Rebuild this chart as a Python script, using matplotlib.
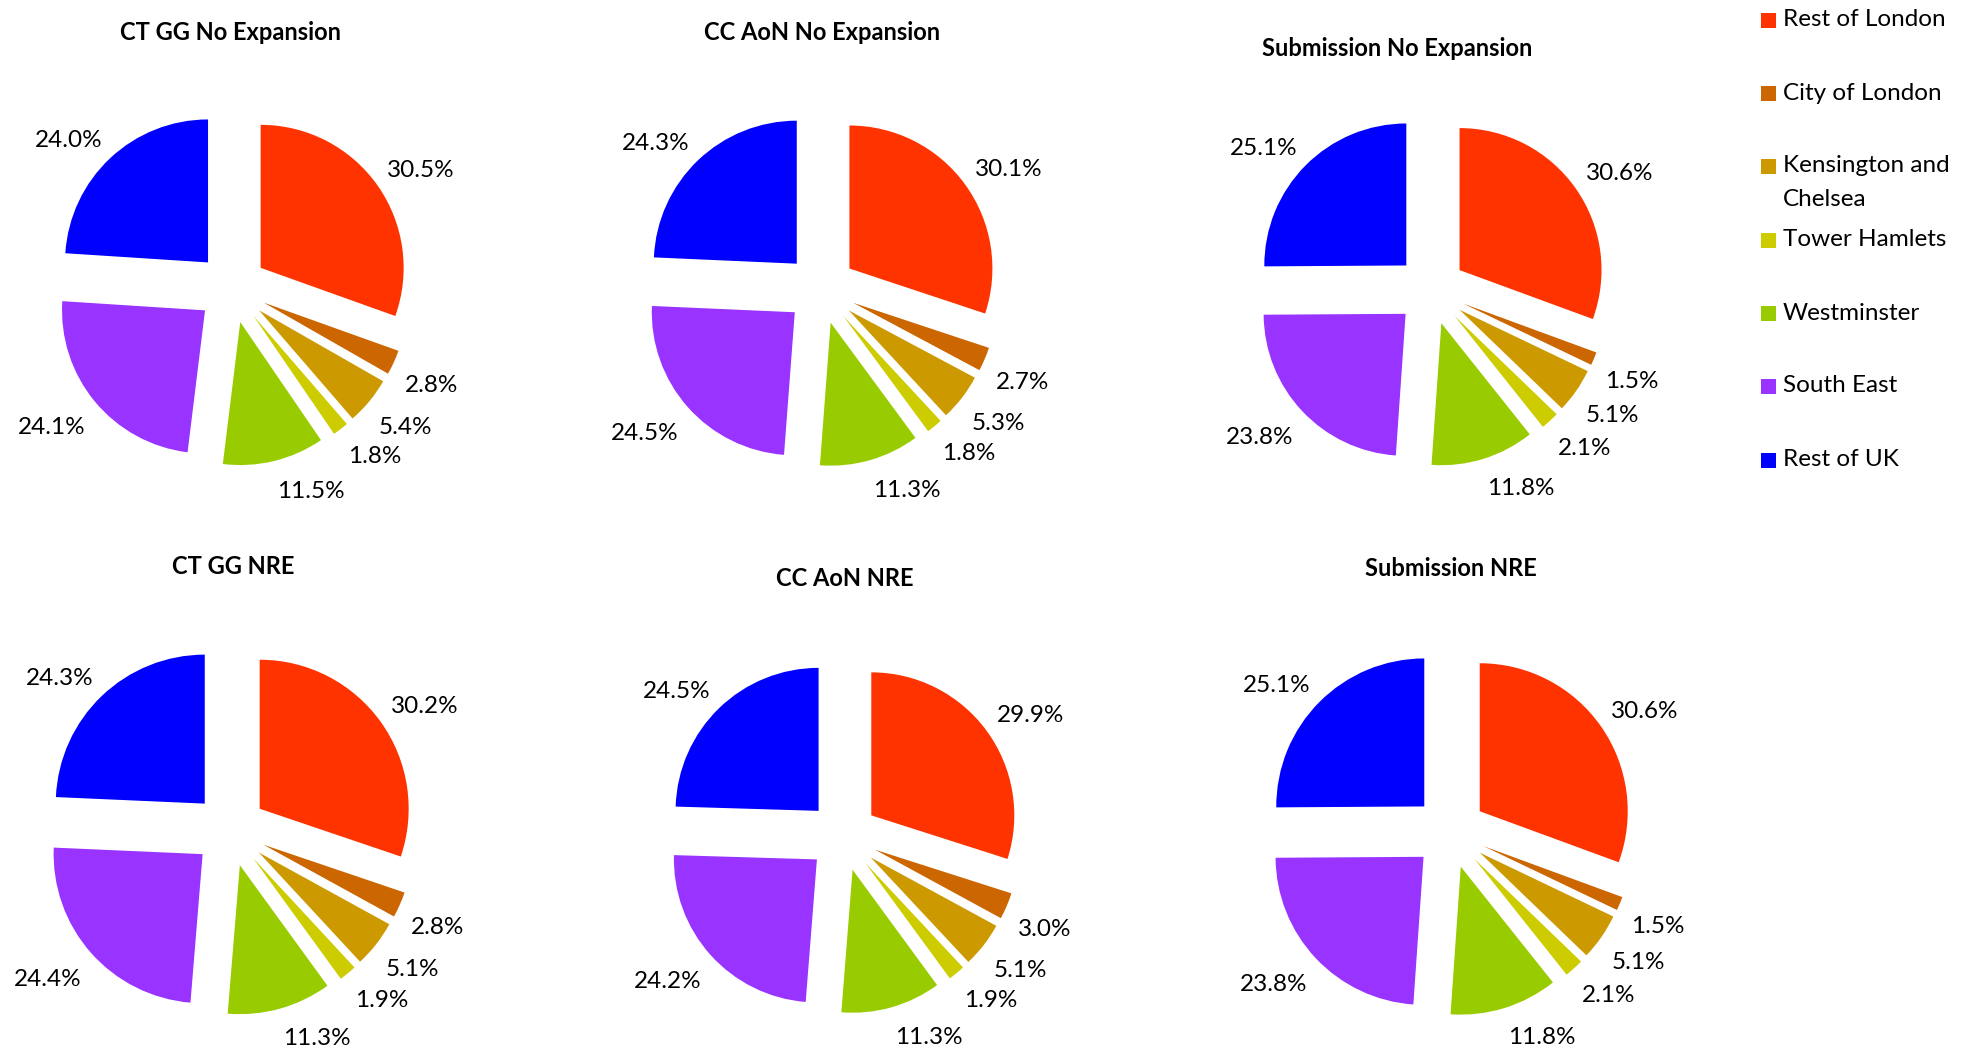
import numpy as np
import matplotlib
matplotlib.use("Agg")
import matplotlib.pyplot as plt
from matplotlib.patches import Rectangle

plt.rcParams["font.family"] = ["Lato", "DejaVu Sans"]

categories = ["Rest of London", "City of London", "Kensington and Chelsea",
              "Tower Hamlets", "Westminster", "South East", "Rest of UK"]
legend_labels = ["Rest of London", "City of London", "Kensington and\nChelsea",
                 "Tower Hamlets", "Westminster", "South East", "Rest of UK"]
colors = ["#FF3300", "#CC6600", "#CC9900", "#CCCC00", "#99CC00", "#9933FF", "#0000FF"]

titles = ["CT GG No Expansion", "CC AoN No Expansion", "Submission No Expansion",
          "CT GG NRE", "CC AoN NRE", "Submission NRE"]
ct_gg_noexp = [30.5, 2.8, 5.4, 1.8, 11.5, 24.1, 24.0]
cc_aon_noexp = [30.1, 2.7, 5.3, 1.8, 11.3, 24.5, 24.3]
submission_noexp = [30.6, 1.5, 5.1, 2.1, 11.8, 23.8, 25.1]
ct_gg_nre = [30.2, 2.8, 5.1, 1.9, 11.3, 24.4, 24.3]
cc_aon_nre = [29.9, 3.0, 5.1, 1.9, 11.3, 24.2, 24.5]
submission_nre = [30.6, 1.5, 5.1, 2.1, 11.8, 23.8, 25.1]
series = [ct_gg_noexp, cc_aon_noexp, submission_noexp,
          ct_gg_nre, cc_aon_nre, submission_nre]

W, H = 1972, 1056
fig = plt.figure(figsize=(W / 100, H / 100), dpi=100)

# layout in pixels (from top-left): pie centre, radius, title position
pie_pos = [(232, 288, 143), (821, 289, 143), (1431, 290, 142),
           (230, 830, 149), (843, 836, 143), (1450, 832, 148)]
title_pos = [(230, 33), (822, 33), (1397, 48),
             (233, 566), (845, 579), (1451, 568)]

S = 560  # axes box size in px
PAD = 12  # gap between arc and nearest label corner, px
pies = []
for vals, title, (cx, cy, r), (tx, ty) in zip(series, titles, pie_pos, title_pos):
    ax = fig.add_axes([(cx - S / 2) / W, 1 - (cy + S / 2) / H, S / W, S / H])
    labels = [f"{v:.1f}%" for v in vals]
    wedges, texts = ax.pie(vals, labels=labels, colors=colors, startangle=90,
                           counterclock=False, explode=[0.245] * len(vals),
                           labeldistance=1.3, radius=1.0,
                           wedgeprops=dict(linewidth=0),
                           textprops=dict(fontsize=17.5, color="black"))
    for t in texts:
        t.set_horizontalalignment("center")
        t.set_verticalalignment("center")
    L = (S / 2) / r
    ax.set_xlim(-L, L)
    ax.set_ylim(-L, L)
    ax.set_aspect("equal")
    ax.axis("off")
    pies.append((wedges, texts, r))
    fig.text(tx / W, 1 - ty / H, title, ha="center", va="center",
             fontsize=17, fontweight="bold")

# "outside end" labels: the label corner nearest the slice sits on its bisector
fig.canvas.draw()
renderer = fig.canvas.get_renderer()
for wedges, texts, r in pies:
    for w, t in zip(wedges, texts):
        th = np.deg2rad((w.theta1 + w.theta2) / 2)
        ux, uy = np.cos(th), np.sin(th)
        bb = t.get_window_extent(renderer)
        hw = bb.width / 2
        hh = bb.height / 2 * 0.8 if uy > 0 else bb.height / 2 * 0.8 + 10
        x0, y0 = w.center
        d = 1 + PAD / r
        t.set_position((x0 + d * ux + np.sign(ux) * hw / r,
                        y0 + d * uy + np.sign(uy) * hh / r))

# legend down the right edge
leg_y = [20, 93, 166, 240, 313, 386, 460]
for lab, col, y in zip(legend_labels, colors, leg_y):
    fig.patches.append(Rectangle((1761 / W, 1 - (y + 8) / H), 15 / W, 15 / H,
                                 transform=fig.transFigure, facecolor=col,
                                 edgecolor="none"))
    for i, line in enumerate(lab.split("\n")):
        fig.text(1783 / W, 1 - (y + i * 33) / H, line, ha="left", va="center",
                 fontsize=17.5)

fig.savefig("out.png", dpi=100)
